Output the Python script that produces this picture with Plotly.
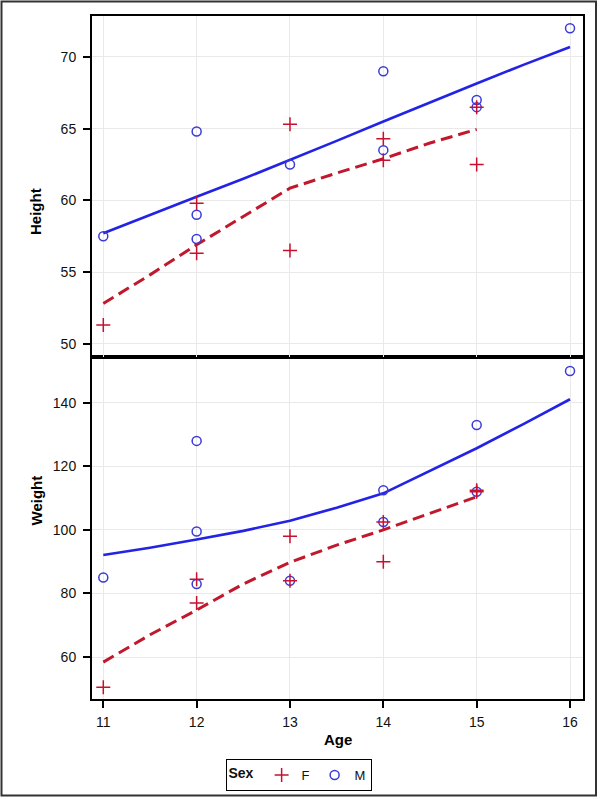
import plotly.graph_objects as go

# ---- data (SASHELP.CLASS) ----
f_age = [13, 13, 14, 12, 15, 11, 14, 12, 15]
f_height = [56.5, 65.3, 62.8, 59.8, 62.5, 51.3, 64.3, 56.3, 66.5]
f_weight = [84.0, 98.0, 102.5, 84.5, 112.5, 50.5, 90.0, 77.0, 112.0]

m_age = [14, 14, 12, 13, 12, 16, 12, 15, 11, 15]
m_height = [69.0, 63.5, 57.3, 62.5, 59.0, 72.0, 64.8, 67.0, 57.5, 66.5]
m_weight = [112.5, 102.5, 83.0, 84.0, 99.5, 150.0, 128.0, 133.0, 85.0, 112.0]

# loess fits
f_fit_age = [11, 11.5, 12, 12.5, 13, 13.5, 14, 14.5, 15]
f_fit_height = [52.8, 54.8, 56.9, 58.9, 60.85, 61.9, 62.9, 64.0, 64.95]
f_fit_weight = [58.4, 67.0, 74.8, 83.0, 89.8, 95.2, 100.0, 105.2, 110.4]

m_fit_age = [11, 11.5, 12, 12.5, 13, 13.5, 14, 14.5, 15, 15.5, 16]
m_fit_height = [57.7, 59.0, 60.25, 61.5, 62.8, 64.15, 65.5, 66.85, 68.15, 69.45, 70.7]
m_fit_weight = [92.1, 94.4, 97.0, 99.7, 102.9, 107.0, 111.5, 118.6, 125.7, 133.3, 141.1]

x_ticks = [11, 12, 13, 14, 15, 16]
h_ticks = [50, 55, 60, 65, 70]
w_ticks = [60, 80, 100, 120, 140]

BLUE_LINE = "#2323E6"
BLUE_MARK = "#3A3AD8"
RED_LINE = "#C0182C"
RED_MARK = "#C8102E"

fig = go.Figure()

# Top panel (Height)
fig.add_trace(go.Scatter(x=f_fit_age, y=f_fit_height, mode="lines", xaxis="x2", yaxis="y2",
                         line=dict(color=RED_LINE, width=3, dash="12px,6px"), showlegend=False))
fig.add_trace(go.Scatter(x=m_fit_age, y=m_fit_height, mode="lines", xaxis="x2", yaxis="y2",
                         line=dict(color=BLUE_LINE, width=2.6), showlegend=False))
fig.add_trace(go.Scatter(x=m_age, y=m_height, mode="markers", xaxis="x2", yaxis="y2",
                         marker=dict(symbol="circle-open", size=9, color=BLUE_MARK, line=dict(width=1.5)),
                         showlegend=False))
fig.add_trace(go.Scatter(x=f_age, y=f_height, mode="markers", xaxis="x2", yaxis="y2",
                         marker=dict(symbol="cross-thin", size=10, color=RED_MARK,
                                     line=dict(width=1.5, color=RED_MARK)),
                         showlegend=False))

# Bottom panel (Weight)
fig.add_trace(go.Scatter(x=f_fit_age, y=f_fit_weight, mode="lines", xaxis="x", yaxis="y",
                         line=dict(color=RED_LINE, width=3, dash="12px,6px"), showlegend=False))
fig.add_trace(go.Scatter(x=m_fit_age, y=m_fit_weight, mode="lines", xaxis="x", yaxis="y",
                         line=dict(color=BLUE_LINE, width=2.6), showlegend=False))
fig.add_trace(go.Scatter(x=m_age, y=m_weight, mode="markers", xaxis="x", yaxis="y",
                         marker=dict(symbol="circle-open", size=9, color=BLUE_MARK, line=dict(width=1.5)),
                         showlegend=False))
fig.add_trace(go.Scatter(x=f_age, y=f_weight, mode="markers", xaxis="x", yaxis="y",
                         marker=dict(symbol="cross-thin", size=10, color=RED_MARK,
                                     line=dict(width=1.5, color=RED_MARK)),
                         showlegend=False))

# Legend entries
fig.add_trace(go.Scatter(x=[None], y=[None], mode="markers", name="F",
                         marker=dict(symbol="cross-thin", size=10, color=RED_MARK,
                                     line=dict(width=1.5, color=RED_MARK))))
fig.add_trace(go.Scatter(x=[None], y=[None], mode="markers", name="M",
                         marker=dict(symbol="circle-open", size=9, color=BLUE_MARK, line=dict(width=1.5))))

L, R, T, B = 92, 17, 16, 100
W, H = 600, 799
ph = H - T - B
pw = W - L - R
split = (699 - 357) / ph

axis_common = dict(showline=True, linecolor="black", linewidth=2, mirror=True,
                   showgrid=True, gridcolor="#E9E9E9", gridwidth=1, zeroline=False,
                   tickfont=dict(family="Liberation Sans, Arial", size=14, color="#111"),
                   tickcolor="black", ticklen=7, tickwidth=1.5, automargin=False)

xr = [10.879, 16.139]
fig.update_layout(
    width=W, height=H,
    margin=dict(l=L, r=R, t=T, b=B, autoexpand=False),
    plot_bgcolor="white", paper_bgcolor="white",
    font=dict(family="Liberation Sans, Arial", color="#111"),
    xaxis=dict(domain=[0, 1], anchor="y", range=xr, tickvals=x_ticks, ticks="outside",
               ticklabelstandoff=2, **axis_common),
    yaxis=dict(domain=[0, split], anchor="x", range=[46.8, 154.4], tickvals=w_ticks,
               ticks="outside", ticklabelstandoff=4, **axis_common),
    xaxis2=dict(domain=[0, 1], anchor="y2", range=xr, tickvals=x_ticks, ticks="",
                showticklabels=False, matches="x", **axis_common),
    yaxis2=dict(domain=[split, 1], anchor="x2", range=[49.07, 72.86], tickvals=h_ticks,
                ticks="outside", ticklabelstandoff=4, **axis_common),
    legend=dict(orientation="h", x=(298.5 - L) / pw, xanchor="center",
                y=(699 - 759) / ph, yanchor="top",
                bordercolor="black", borderwidth=1, bgcolor="white",
                title=dict(text="<b>Sex</b>", font=dict(size=14)),
                font=dict(size=13), itemwidth=30, tracegroupgap=0),
    showlegend=True,
)

def paper_x(px):
    return (px - L) / pw

def paper_y(py):
    return (H - B - py) / ph

fig.add_annotation(text="<b>Height</b>", x=paper_x(25), y=paper_y(186), xref="paper", yref="paper",
                   showarrow=False, textangle=-90, font=dict(size=15, color="black"))
fig.add_annotation(text="<b>Weight</b>", x=paper_x(25), y=paper_y(528), xref="paper", yref="paper",
                   showarrow=False, textangle=-90, font=dict(size=15, color="black"))
fig.add_annotation(text="<b>Age</b>", x=paper_x(337.5), y=paper_y(750), xref="paper", yref="paper",
                   showarrow=False, font=dict(size=15, color="black"))

# outer frame
fig.add_shape(type="rect", xref="paper", yref="paper",
              x0=paper_x(1.5), x1=paper_x(596), y0=paper_y(795.5), y1=paper_y(1.5),
              line=dict(color="#333", width=2), layer="above")

fig.write_html("out.html", config={"displayModeBar": False},
               post_script="document.body.style.margin='0';document.body.style.overflow='hidden';")
